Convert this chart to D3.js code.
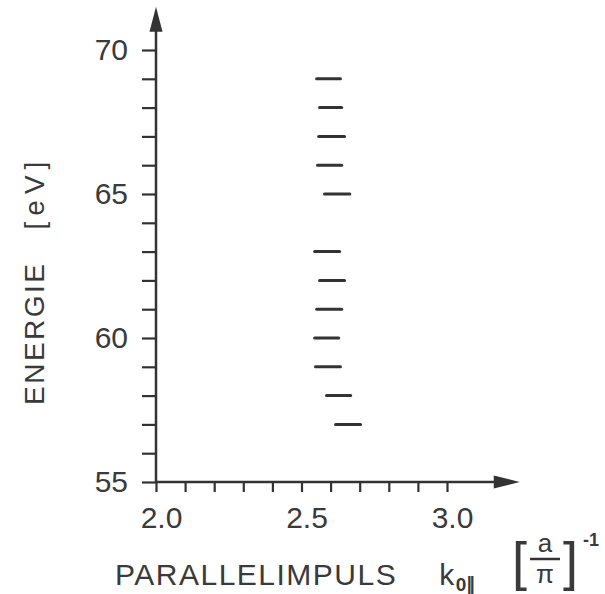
<!DOCTYPE html>
<html>
<head>
<meta charset="utf-8">
<script src="https://cdn.jsdelivr.net/npm/d3@7"></script>
<style>
  html, body { margin: 0; padding: 0; background: #ffffff; }
  svg { display: block; }
  text { font-family: "Liberation Sans", Arial, sans-serif; fill: #3a3a3a; }
</style>
</head>
<body>
<div id="chart"></div>
<script>
// ---- data ----
const energies = [69, 68, 67, 66, 65, 63, 62, 61, 60, 59, 58, 57];          // eV
const kLow     = [2.552, 2.562, 2.559, 2.555, 2.579, 2.545, 2.562, 2.552, 2.545, 2.548, 2.586, 2.617];
const kHigh    = [2.634, 2.638, 2.648, 2.638, 2.666, 2.631, 2.648, 2.638, 2.628, 2.634, 2.669, 2.703];
const yTicks = d3.range(55, 71, 1);
const yTickLabels = [55, 60, 65, 70];
const xTicks = d3.range(0, 11).map(i => 2.0 + i * 0.1);
const xTickLabels = ["2.0", "2.5", "3.0"];

const W = 605, H = 594;
const svg = d3.select("#chart").append("svg").attr("width", W).attr("height", H);

const x = d3.scaleLinear().domain([2.0, 3.0]).range([156, 447]);
const y = d3.scaleLinear().domain([55, 70]).range([482, 50]);
const ink = "#333";

// y axis ticks
const yAxis = d3.axisLeft(y)
  .tickValues(yTicks)
  .tickSize(14)
  .tickPadding(14)
  .tickFormat(d => yTickLabels.includes(d) ? String(d) : "");
const gy = svg.append("g").attr("transform", `translate(${x(2.0)},0)`).call(yAxis);
gy.select(".domain").remove();
gy.selectAll(".tick line").attr("stroke", ink).attr("stroke-width", 2.2);
gy.selectAll(".tick text").attr("font-size", 30).attr("fill", "#3a3a3a")
  .attr("font-family", "Liberation Sans, Arial, sans-serif");

// x axis ticks
const xAxis = d3.axisBottom(x)
  .tickValues(xTicks)
  .tickSize(10)
  .tickPadding(15)
  .tickFormat(d => {
    const s = d.toFixed(1);
    return xTickLabels.includes(s) ? s : "";
  });
const gx = svg.append("g").attr("transform", `translate(0,${y(55)})`).call(xAxis);
gx.select(".domain").remove();
gx.selectAll(".tick line").attr("stroke", ink).attr("stroke-width", 2.2);
gx.selectAll(".tick text").attr("font-size", 30).attr("fill", "#3a3a3a")
  .attr("font-family", "Liberation Sans, Arial, sans-serif")
  .attr("dx", 5);

// axis lines with arrowheads
const x0 = x(2.0), y0 = y(55);
const xEnd = x(3.25), yEnd = y(71.5);
svg.append("line").attr("x1", x0).attr("y1", y0 + 1).attr("x2", x0).attr("y2", yEnd + 20)
  .attr("stroke", ink).attr("stroke-width", 2.5);
svg.append("line").attr("x1", x0 - 1).attr("y1", y0).attr("x2", xEnd - 20).attr("y2", y0)
  .attr("stroke", ink).attr("stroke-width", 2.5);
svg.append("path")
  .attr("d", `M${x0},${yEnd} L${x0 - 6.5},${yEnd + 25} L${x0 + 6.5},${yEnd + 25} Z`)
  .attr("fill", ink);
svg.append("path")
  .attr("d", `M${xEnd},${y0} L${xEnd - 26},${y0 - 6.5} L${xEnd - 26},${y0 + 6.5} Z`)
  .attr("fill", ink);

// data dashes
svg.append("g").selectAll("line").data(energies).join("line")
  .attr("x1", (d, i) => x(kLow[i]))
  .attr("x2", (d, i) => x(kHigh[i]))
  .attr("y1", d => y(d))
  .attr("y2", d => y(d))
  .attr("stroke", ink)
  .attr("stroke-width", 3)
  .attr("stroke-linecap", "round");

// y title
const yt = svg.append("text")
  .attr("transform", "translate(44,405) rotate(-90)")
  .attr("font-size", 28)
  .attr("letter-spacing", 2.5);
yt.append("tspan").text("ENERGIE");
yt.append("tspan").attr("dx", 32).attr("letter-spacing", 6).text("[eV]");

// x title
const xt = svg.append("text").attr("x", 115).attr("y", 585).attr("font-size", 30).attr("letter-spacing", 1.5);
xt.append("tspan").text("PARALLELIMPULS");
xt.append("tspan").attr("dx", 42).text("k");
xt.append("tspan").attr("dy", 6).attr("font-size", 19).attr("font-weight", "bold").attr("letter-spacing", 0).text("0∥");

svg.append("text").attr("x", 512).attr("y", 580).attr("font-size", 54)
  .attr("font-family", "DejaVu Sans, sans-serif").text("[");
svg.append("text").attr("x", 563).attr("y", 580).attr("font-size", 54)
  .attr("font-family", "DejaVu Sans, sans-serif").text("]");
svg.append("text").attr("x", 545).attr("y", 552).attr("text-anchor", "middle").attr("font-size", 26).text("a");
svg.append("line").attr("x1", 530).attr("x2", 560).attr("y1", 559).attr("y2", 559)
  .attr("stroke", ink).attr("stroke-width", 2.5);
svg.append("text").attr("x", 545).attr("y", 583).attr("text-anchor", "middle").attr("font-size", 26)
  .attr("font-family", "DejaVu Sans, sans-serif").text("π");
svg.append("text").attr("x", 583).attr("y", 546).attr("font-size", 18).attr("font-weight", "bold").text("-1");
</script>
</body>
</html>
